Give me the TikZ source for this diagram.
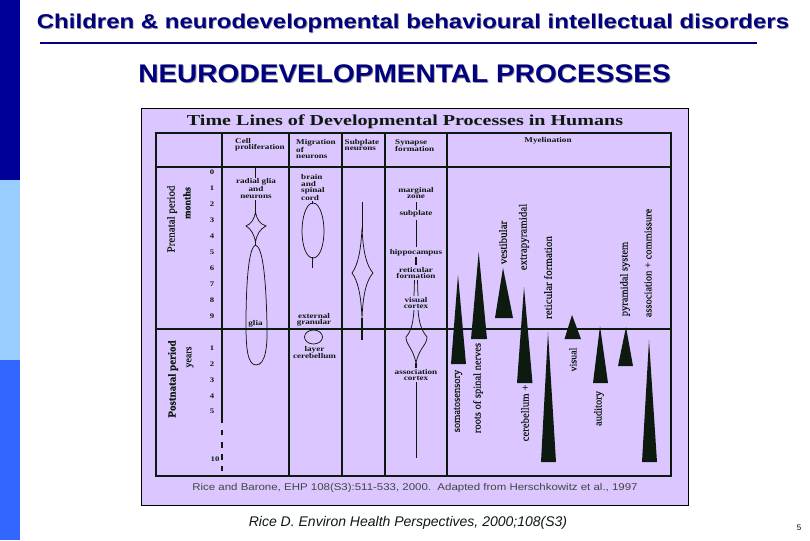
\documentclass[tikz,border=0pt]{standalone}
\usepackage{fontspec}
\setmainfont{Liberation Sans}
\newfontfamily\tms[FakeBold=0.35]{Liberation Serif}
\newfontfamily\wtms[FakeStretch=1.25]{Liberation Serif}
\newfontfamily\ftms[FakeStretch=1.32]{Liberation Serif}
\newfontfamily\heada[FakeStretch=1.2]{Liberation Sans}
\newfontfamily\headb[FakeStretch=1.1]{Liberation Sans}
\newfontfamily\srcf[FakeStretch=1.17]{Liberation Sans}
\definecolor{navyt}{HTML}{000080}
\definecolor{barA}{HTML}{000099}
\definecolor{barB}{HTML}{99CCFF}
\definecolor{barC}{HTML}{3366FF}
\definecolor{lil}{HTML}{DCC6FF}
\definecolor{ink}{HTML}{0C1A10}
\newcommand{\fsz}[1]{\fontsize{#1}{#1}\selectfont}
\tikzset{
  lab/.style={font=\wtms\fsz{7.3}\bfseries, align=center, inner sep=0pt, text=ink, execute at begin node=\setlength{\baselineskip}{6.5pt}},
  num/.style={font=\wtms\fsz{7}\bfseries, inner sep=0pt, text=ink},
  rot/.style={font=\tms\fsz{10.5}, rotate=90, inner sep=0pt, text=ink},
  heavy/.style={draw=ink, line width=1.9pt},
  curve/.style={draw=ink, line width=0.75pt},
  tri/.style={fill=ink, draw=none}
}
\begin{document}
\begin{tikzpicture}[x=1pt,y=-1pt]
\useasboundingbox (0,0) rectangle (810,540);
\fill[white] (0,0) rectangle (810,540);
% side bar
\fill[barA] (0,0) rectangle (20,180);
\fill[barB] (0,180) rectangle (20,360);
\fill[barC] (0,360) rectangle (20,540);
% headings
\node[font=\heada\bfseries\fsz{20}, text=black!40, inner sep=0pt] (t0) at (413.8,24.3) {Children \& neurodevelopmental behavioural intellectual disorders};
\node[font=\heada\bfseries\fsz{20}, text=navyt, inner sep=0pt] (t1) at (413,23.5) {Children \& neurodevelopmental behavioural intellectual disorders};
\draw[navyt, line width=1.2pt] (40,43) -- (757,43);
\node[font=\headb\bfseries\fsz{25.5}, text=black!40, inner sep=0pt] (s0) at (405.3,74.3) {NEURODEVELOPMENTAL PROCESSES};
\node[font=\headb\bfseries\fsz{25.5}, text=navyt, inner sep=0pt] (s1) at (404.5,73.5) {NEURODEVELOPMENTAL PROCESSES};
% figure panel
\draw[fill=lil, draw=black, line width=0.8pt] (141,108) rectangle (688,505);
\node[font=\ftms\bfseries\fsz{15.2}, text=ink, inner sep=0pt] (figt) at (405,121.5) {Time Lines of Developmental Processes in Humans};
% grid
\draw[heavy] (156,133) rectangle (671,476);
\draw[heavy] (156,167) -- (671,167);
\draw[heavy] (156,329) -- (671,329);
\foreach \x in {289,342,385,447} \draw[heavy] (\x,133) -- (\x,476);
\draw[heavy] (222,133) -- (222,167);
\draw[ink, line width=1.3pt] (222,167) -- (222,329);
\draw[heavy] (222,329) -- (222,423);
\foreach \a/\b in {430/435,442/448,454/460,466/471} \draw[heavy] (222,\a) -- (222,\b);
% header labels
\node[lab,align=left,anchor=west] (h1) at (235,144.5) {Cell\\proliferation};
\node[lab,align=left,anchor=west] (h2) at (296,149) {Migration\\of\\neurons};
\node[lab,align=left,anchor=west] (h3) at (344.5,145) {Subplate\\neurons};
\node[lab,align=left,anchor=west] (h4) at (395,145.5) {Synapse\\formation};
\node[lab] (h5) at (548,141) {Myelination};
% period labels
\node[rot,font=\tms\fsz{11}] (p1) at (172,219) {Prenatal period};
\node[rot,font=\tms\fsz{10}\bfseries] (p2) at (187,203) {months};
\node[rot,font=\tms\fsz{11}\bfseries] (p3) at (173,379) {Postnatal period};
\node[rot,font=\tms\fsz{10}] (p4) at (190,357) {years};
% month numbers
\foreach \n/\y in {0/172,1/188,2/204,3/220,4/236,5/252,6/268,7/284,8/300,9/316}
  \node[num] (m\n) at (212,\y) {\n};
\foreach \n/\y in {1/348,2/364,3/380,4/396,5/411}
  \node[num] (y\n) at (212,\y) {\n};
\node[num] (y10) at (215,459) {10};
% cell proliferation
\draw[curve] (255.5,167) -- (255.5,178);
\draw[curve,line width=1pt] (255.5,200) -- (255.5,212);
\draw[curve] (255.5,212) .. controls (257,220) and (260,224) .. (266,226) .. controls (260,229) and (257,234) .. (255.5,242) .. controls (254,234) and (251,229) .. (246,226) .. controls (251,224) and (254,220) .. (255.5,212);
\draw[curve] (255.5,242) -- (255.5,245);
\draw[curve] (255.5,245) .. controls (263,247) and (266,280) .. (267,325) .. controls (267.5,345) and (266,365) .. (256,365) .. controls (247,365) and (246,345) .. (246,325) .. controls (246,280) and (249,247) .. (255.5,245);
\node[lab] (c1) at (256,188.5) {radial glia\\and\\neurons};
\node[lab] (c2) at (255.5,324) {glia};
% migration
\draw[curve] (312.5,201) -- (312.5,204);
\draw[curve] (312.5,257) -- (312.5,268);
\draw[curve] (313,203) .. controls (320,203) and (324,218) .. (324,231) .. controls (324,245) and (320,258) .. (313,258) .. controls (306,258) and (302,245) .. (302,231) .. controls (302,218) and (306,203) .. (313,203);
\node[lab,align=left,anchor=west] (b1) at (301,187.5) {brain\\and\\spinal\\cord};
\node[lab] (b2) at (314,320) {external\\granular};
\draw[curve] (313.5,337) ellipse [x radius=9,y radius=7];
\node[lab] (b3) at (314.5,352.5) {layer\\cerebellum};
% subplate
\draw[curve] (362,202) -- (362,232);
\draw[curve] (362,228) .. controls (363,250) and (366,265) .. (373,273) .. controls (366,281) and (363,295) .. (362,318) .. controls (361,295) and (358,281) .. (352,273) .. controls (358,265) and (361,250) .. (362,228);
\draw[curve,line width=1.1pt] (362,318) -- (362,340);
% synapse formation
\node[lab] (s1n) at (416,193) {marginal\\zone};
\draw[curve] (416,202) -- (416,210);
\node[lab] (s2n) at (416,214) {subplate};
\draw[curve] (416,220) -- (416,247);
\node[lab] (s3n) at (416,253) {hippocampus};
\draw[heavy,line width=1.5pt] (416,257) -- (416,265);
\node[lab] (s4n) at (416,273) {reticular\\formation};
\draw[curve] (414.5,280) -- (414,296);
\draw[curve] (417.5,280) -- (418,296);
\node[lab] (s5n) at (416,303) {visual\\cortex};
\draw[curve] (414,310) .. controls (413,322) and (412,330) .. (406,337) .. controls (406,345) and (413,348) .. (416,363) .. controls (419,348) and (427,345) .. (427,337) .. controls (421,330) and (419,322) .. (418,310);
\draw[curve,line width=1.1pt] (416,363) -- (416,368);
\node[lab] (s6n) at (416,375) {association\\cortex};
\draw[curve] (416,382) -- (416,458);
% myelination triangles
\foreach \x/\t/\l/\r/\b in {458/275/451/466/364, 478.7/252/471/487/339, 503/268/495/513/318, 524/287/517/532.5/383, 548/332/541/556/462, 572/315/564.5/581/339, 600/326/593/608/383, 626/327/618/633/366, 649/340/642/657/462}
  \fill[tri] (\x,\t) -- (\r,\b) -- (\l,\b) -- cycle;
% myelination labels
\node[rot,font=\tms\fsz{11}] (r1) at (503,242.5) {vestibular};
\node[rot,font=\tms\fsz{11}] (r2) at (524,237) {extrapyramidal};
\node[rot,font=\tms\fsz{11}] (r3) at (548,277.5) {reticular formation};
\node[rot,font=\tms\fsz{10.5}] (r4) at (625,279) {pyramidal system};
\node[rot,font=\tms\fsz{10.5}] (r5) at (648,263) {association + commissure};
\node[rot,font=\tms\fsz{10.5}] (r6) at (458,401) {somatosensory};
\node[rot,font=\tms\fsz{10.5}] (r7) at (478,388) {roots of spinal nerves};
\node[rot,font=\tms\fsz{10.8}] (r8) at (525,413) {cerebellum +};
\node[rot,font=\tms\fsz{10}] (r9) at (573,359.5) {visual};
\node[rot,font=\tms\fsz{10.5}] (r10) at (599,408.5) {auditory};
% source inside figure
\node[font=\srcf\fsz{9.8}, text=ink!80, inner sep=0pt] (src) at (415,488) {Rice and Barone, EHP 108(S3):511-533, 2000.\ \ Adapted from Herschkowitz et al., 1997};
% caption
\node[font=\itshape\fsz{14}, text=ink, inner sep=0pt] (cap) at (408,523) {Rice D. Environ Health Perspectives, 2000;108(S3)};
\node[font=\fsz{8}, inner sep=0pt] (pg) at (799,528) {5};
\end{tikzpicture}
\end{document}
